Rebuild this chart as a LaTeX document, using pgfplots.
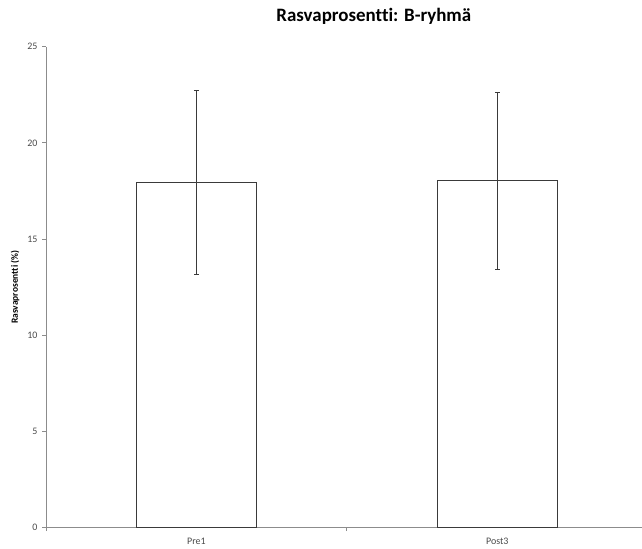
\documentclass[border=0pt]{standalone}
\usepackage{fontspec}
\setmainfont{Carlito}[Ligatures={NoCommon}]
\usepackage{pgfplots}
\pgfplotsset{compat=1.18}
\definecolor{axisgray}{HTML}{8C8C8C}
\definecolor{bargray}{HTML}{3A3A3A}
\definecolor{errgray}{HTML}{3A3A3A}
\definecolor{labgray}{HTML}{4A4A4A}
\begin{document}
\begin{tikzpicture}
\useasboundingbox (-46bp,-20.5bp) rectangle (596bp,527.7bp);
\begin{axis}[
  at={(0,0)}, anchor=south west,
  scale only axis, width=596bp, height=481bp,
  xmin=-0.5, xmax=1.481, ymin=0, ymax=25,
  axis x line*=bottom, axis y line*=left,
  axis line style={draw=axisgray, line width=0.8bp},
  ytick={0,5,10,15,20,25},
  xtick={0,1},
  xticklabels={Pre1,Post3},
  xtick style={draw=none},
  extra x ticks={-0.5,0.5},
  extra x tick labels={},
  extra x tick style={xtick style={draw=axisgray, line width=0.8bp}},
  tick align=outside,
  major tick length=3.5bp,
  ytick style={draw=axisgray, line width=0.8bp},
  /pgf/number format/assume math mode=true,
  tick label style={font=\fontsize{10}{12}\selectfont, text=labgray},
  xticklabel style={yshift=-3bp},
  yticklabel style={xshift=-1.5bp},
  ylabel={\bfseries Rasvaprosentti (\%)},
  ylabel style={font=\fontsize{9.5}{11}\selectfont, text=black, at={(axis description cs:-0.052,0.5)}, anchor=center},
  title={\bfseries Rasvaprosentti: B-ryhmä},
  title style={font=\fontsize{19}{22}\selectfont, at={(axis description cs:0.55,1)}, anchor=center, yshift=24.7bp},
]
\addplot[ybar, bar width=120.5bp, bar shift=0pt, fill=white, draw=bargray, line width=1bp,
  error bars/.cd, y dir=both, y explicit,
  error bar style={line width=1bp, draw=errgray},
  error mark options={rotate=90, mark size=2.5bp, line width=1bp, draw=errgray}]
  coordinates {(0,17.94) +- (0,4.79) (1,18.03) +- (0,4.60)};
\end{axis}
\end{tikzpicture}
\end{document}
